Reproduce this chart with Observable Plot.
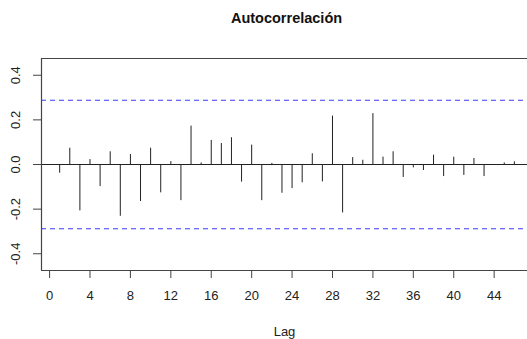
<!DOCTYPE html>
<html>
<head>
<meta charset="utf-8">
<script src="https://cdn.jsdelivr.net/npm/d3@7"></script>
<script src="https://cdn.jsdelivr.net/npm/@observablehq/plot@0.6"></script>
<style>
  html, body { margin: 0; padding: 0; background: #fff; overflow: hidden; }
  svg { display: block; font-family: "Liberation Sans", Arial, sans-serif; }
</style>
</head>
<body>
<div id="chart"></div>
<script>
// Sample autocorrelation by lag (lags 1..46)
const lags = d3.range(1, 47);
const acfValues = [
  -0.039, 0.073, -0.208, 0.022, -0.099, 0.057, -0.232, 0.045, -0.166, 0.073,
  -0.127, 0.013, -0.162, 0.172, 0.007, 0.108, 0.094, 0.120, -0.079, 0.087,
  -0.162, 0.005, -0.129, -0.108, -0.082, 0.048, -0.078, 0.217, -0.217, 0.031,
  0.019, 0.228, 0.033, 0.057, -0.058, -0.015, -0.027, 0.042, -0.054, 0.033,
  -0.049, 0.027, -0.054, -0.003, 0.007, 0.012
];
// 95% significance bounds
const ciBound = 0.288;
const xTicks = [0, 4, 8, 12, 16, 20, 24, 28, 32, 36, 40, 44];
const yTicks = [-0.4, -0.2, 0.0, 0.2, 0.4];
const title = "Autocorrelación";
const xLabel = "Lag";

const data = lags.map((lag, i) => ({lag, acf: acfValues[i]}));
const xDomain = [-0.8, 47.3];
const yDomain = [-0.475, 0.475];
const ink = "#222";
const boxColor = "#444";

const chart = Plot.plot({
  width: 527,
  height: 339,
  marginLeft: 41,
  marginRight: 0,
  marginTop: 58,
  marginBottom: 69,
  style: {fontFamily: "Liberation Sans, Arial, sans-serif", fontSize: "13px", color: ink},
  x: {domain: xDomain, axis: null},
  y: {domain: yDomain, axis: null},
  marks: [
    // significance bounds
    Plot.ruleY([ciBound, -ciBound], {stroke: "#3b3bff", strokeWidth: 1.1, strokeDasharray: "5,4"}),
    // zero line
    Plot.ruleY([0], {stroke: ink, strokeWidth: 1}),
    // autocorrelation spikes
    Plot.ruleX(data, {x: "lag", y1: 0, y2: "acf", stroke: ink, strokeWidth: 1}),
    // plot box (top, bottom, left)
    Plot.ruleY([yDomain[0], yDomain[1]], {stroke: boxColor, strokeWidth: 1.2}),
    Plot.ruleX([xDomain[0]], {stroke: boxColor, strokeWidth: 1.2}),
    // axes
    Plot.axisX({ticks: xTicks, tickSize: 8, tickPadding: 12, tickFormat: d => String(d), stroke: boxColor, fill: ink, fontSize: 13, label: null}),
    Plot.axisY({ticks: yTicks, tickSize: 8, tickFormat: () => "", stroke: boxColor, label: null}),
    Plot.text(yTicks, {
      y: d => d,
      text: d => d.toFixed(1),
      frameAnchor: "left",
      dx: -26,
      rotate: -90,
      textAnchor: "middle",
      lineAnchor: "middle",
      fontSize: 13,
      fill: ink
    }),
    // x-axis title
    Plot.text([xLabel], {frameAnchor: "bottom", dy: 61, lineAnchor: "middle", fontSize: 13, fill: ink}),
    // chart title
    Plot.text([title], {frameAnchor: "top", dx: 2, dy: -40, lineAnchor: "middle", fontSize: 14.5, fontWeight: "bold", fill: "#111"})
  ]
});

document.getElementById("chart").appendChild(chart);
</script>
</body>
</html>
